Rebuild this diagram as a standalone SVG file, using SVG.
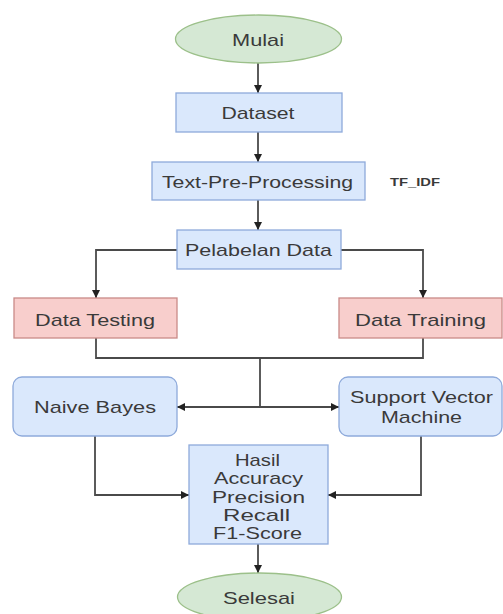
<svg xmlns="http://www.w3.org/2000/svg" width="503" height="614" viewBox="0 0 503 614">
<style>
.blue{fill:#dae8fc;stroke:#8eaadb;stroke-width:1.3}
.red{fill:#f8cecc;stroke:#c98a88;stroke-width:1.3}
.green{fill:#d5e8d4;stroke:#9cc08a;stroke-width:1.3}
.t{font-family:"Liberation Sans",Arial,sans-serif;font-size:17px;fill:#3a3a3a;text-anchor:middle}
.e{fill:none;stroke:#4a4a4a;stroke-width:1.8}
</style>
<defs>
<marker id="ah" markerWidth="9" markerHeight="9" refX="8" refY="4.5" orient="auto" markerUnits="userSpaceOnUse">
<path d="M0,0.5 L8,4.5 L0,8.5 Z" fill="#222"/>
</marker>
</defs>
<rect width="503" height="614" fill="#ffffff"/>
<g id="connectors">
<path class="e" d="M258 63 V93" marker-end="url(#ah)"/>
<path class="e" d="M258 132 V162" marker-end="url(#ah)"/>
<path class="e" d="M258 200 V230" marker-end="url(#ah)"/>
<path class="e" d="M177 250 H96 V298" marker-end="url(#ah)"/>
<path class="e" d="M341 250 H423 V298" marker-end="url(#ah)"/>
<path class="e" d="M96 338 V358 H423 V338"/>
<path class="e" d="M260 358 V407"/>
<path class="e" d="M260 407 H177" marker-end="url(#ah)"/>
<path class="e" d="M260 407 H339" marker-end="url(#ah)"/>
<path class="e" d="M95 436 V495 H189" marker-end="url(#ah)"/>
<path class="e" d="M421 436 V495 H328" marker-end="url(#ah)"/>
<path class="e" d="M258 544 V573" marker-end="url(#ah)"/>
</g>
<g id="mulai">
<ellipse class="green" cx="258.5" cy="39" rx="83" ry="24"/>
<text class="t" x="258" y="46" textLength="52" lengthAdjust="spacingAndGlyphs">Mulai</text>
</g>
<g id="dataset">
<rect class="blue" x="176" y="93" width="166" height="39"/>
<text class="t" x="258" y="119" textLength="73" lengthAdjust="spacingAndGlyphs">Dataset</text>
</g>
<g id="text-pre-processing">
<rect class="blue" x="152" y="162" width="213" height="38"/>
<text class="t" x="257.5" y="188" textLength="191" lengthAdjust="spacingAndGlyphs">Text-Pre-Processing</text>
</g>
<g id="tfidf">
<text class="t" x="415" y="186" style="font-size:10px;font-weight:bold" textLength="50" lengthAdjust="spacingAndGlyphs">TF_IDF</text>
</g>
<g id="pelabelan">
<rect class="blue" x="177" y="230" width="164" height="39"/>
<text class="t" x="258.5" y="256" textLength="147" lengthAdjust="spacingAndGlyphs">Pelabelan Data</text>
</g>
<g id="data-testing">
<rect class="red" x="14" y="298" width="163" height="40"/>
<text class="t" x="95" y="326" textLength="120" lengthAdjust="spacingAndGlyphs">Data Testing</text>
</g>
<g id="data-training">
<rect class="red" x="339" y="298" width="163" height="40"/>
<text class="t" x="420.5" y="326" textLength="131" lengthAdjust="spacingAndGlyphs">Data Training</text>
</g>
<g id="naive-bayes">
<rect class="blue" x="13" y="377" width="164" height="59" rx="9"/>
<text class="t" x="95" y="413" textLength="122" lengthAdjust="spacingAndGlyphs">Naive Bayes</text>
</g>
<g id="svm">
<rect class="blue" x="339" y="377" width="163" height="59" rx="9"/>
<text class="t" x="421.5" y="403" textLength="143" lengthAdjust="spacingAndGlyphs">Support Vector</text>
<text class="t" x="421.5" y="423" textLength="81" lengthAdjust="spacingAndGlyphs">Machine</text>
</g>
<g id="hasil">
<rect class="blue" x="189" y="445" width="139" height="99"/>
<text class="t" x="257.5" y="466" textLength="45" lengthAdjust="spacingAndGlyphs">Hasil</text>
<text class="t" x="258.5" y="484" textLength="89" lengthAdjust="spacingAndGlyphs">Accuracy</text>
<text class="t" x="258.5" y="503" textLength="93" lengthAdjust="spacingAndGlyphs">Precision</text>
<text class="t" x="256.5" y="521" textLength="67" lengthAdjust="spacingAndGlyphs">Recall</text>
<text class="t" x="257.5" y="539" textLength="89" lengthAdjust="spacingAndGlyphs">F1-Score</text>
</g>
<g id="selesai">
<ellipse class="green" cx="259.5" cy="597" rx="82" ry="24"/>
<text class="t" x="259" y="604" textLength="72" lengthAdjust="spacingAndGlyphs">Selesai</text>
</g>
</svg>
